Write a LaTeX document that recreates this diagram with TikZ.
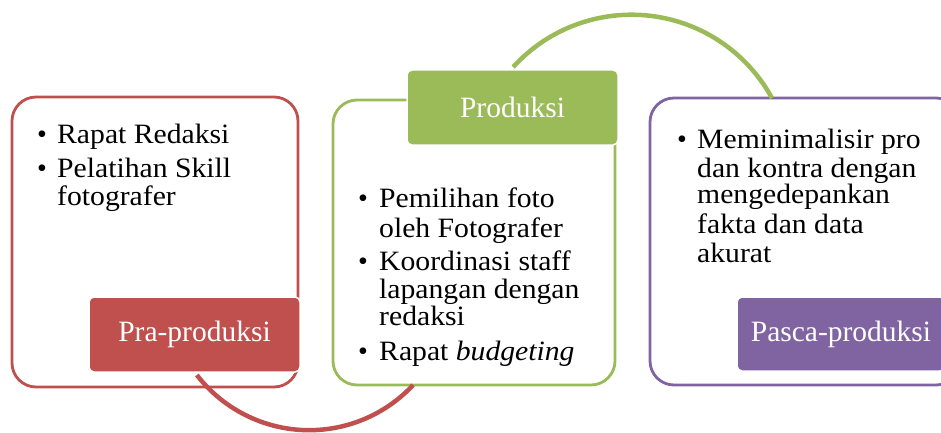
\documentclass[tikz,border=0pt]{standalone}
\usepackage{fontspec}
\setmainfont{Liberation Serif}
\newfontfamily\stretchfont[FakeStretch=1.06]{Liberation Serif}
\definecolor{cred}{HTML}{C0504D}
\definecolor{cgreen}{HTML}{9BBB59}
\definecolor{cpurple}{HTML}{8064A2}
\begin{document}
\begin{tikzpicture}[x=1pt,y=1pt,
  frame/.style={draw, line width=2.8pt, fill=white, rounded corners=24pt},
  label/.style={draw=white, line width=1.5pt, rounded corners=5pt, text=white, font=\fontsize{29.5}{30}\selectfont},
  txt/.style={anchor=base west, inner sep=0pt, font=\stretchfont\fontsize{28}{28.5}\selectfont, text=black},
  bul/.style={anchor=base, inner sep=0pt, font=\fontsize{28}{28}\selectfont, text=black},
  link/.style={line width=4.5pt}]
\useasboundingbox (0,0) rectangle (941,432);
\clip (0,0) rectangle (941,432);
% frames
\draw[frame, draw=cred] (12,45) rectangle (298,335);
\draw[frame, draw=cgreen] (333,47) rectangle (615,332);
\draw[frame, draw=cpurple] (650,47) rectangle (960,334);
% connectors
\coordinate (r1) at ([shift={(309.2,143.8)}]217.7:142);
\coordinate (g1) at ([shift={(631.5,257.3)}]137.7:160);
\draw[link, cred] (r1) arc[start angle=217.7, end angle=317, radius=142];
\draw[link, cgreen] (g1) arc[start angle=137.7, end angle=28.6, radius=160];
% labels
\node[label, fill=cred, minimum width=211pt, minimum height=75pt] (pra) at (194.5,97.5) {Pra-produksi};
\node[label, fill=cgreen, minimum width=211pt, minimum height=75pt] (pro) at (512.5,324.5) {Produksi};
\node[label, fill=cpurple, minimum width=208pt, minimum height=74pt] (pas) at (841,98) {Pasca-produksi};
% left text
\node[bul] (lb1) at (42,289) {•};
\node[txt] (lt1) at (57,289) {Rapat Redaksi};
\node[bul] (lb2) at (42,255) {•};
\node[txt] (lt2) at (57,255) {Pelatihan Skill};
\node[txt] (lt3) at (57,227) {fotografer};
% middle text
\node[bul] (mb1) at (363,225) {•};
\node[txt] (mt1) at (379,225) {Pemilihan foto};
\node[txt] (mt2) at (379,195) {oleh Fotografer};
\node[bul] (mb2) at (363,162) {•};
\node[txt] (mt3) at (379,162) {Koordinasi staff};
\node[txt] (mt4) at (379,134) {lapangan dengan};
\node[txt] (mt5) at (379,107) {redaksi};
\node[bul] (mb3) at (363,72) {•};
\node[txt] (mt6) at (379,72) {Rapat \textit{budgeting}};
% right text
\node[bul] (rb1) at (682,284) {•};
\node[txt] (rt1) at (697,284) {Meminimalisir pro};
\node[txt] (rt2) at (697,255) {dan kontra dengan};
\node[txt] (rt3) at (697,229) {mengedepankan};
\node[txt] (rt4) at (697,199) {fakta dan data};
\node[txt] (rt5) at (697,170) {akurat};
\end{tikzpicture}
\end{document}
